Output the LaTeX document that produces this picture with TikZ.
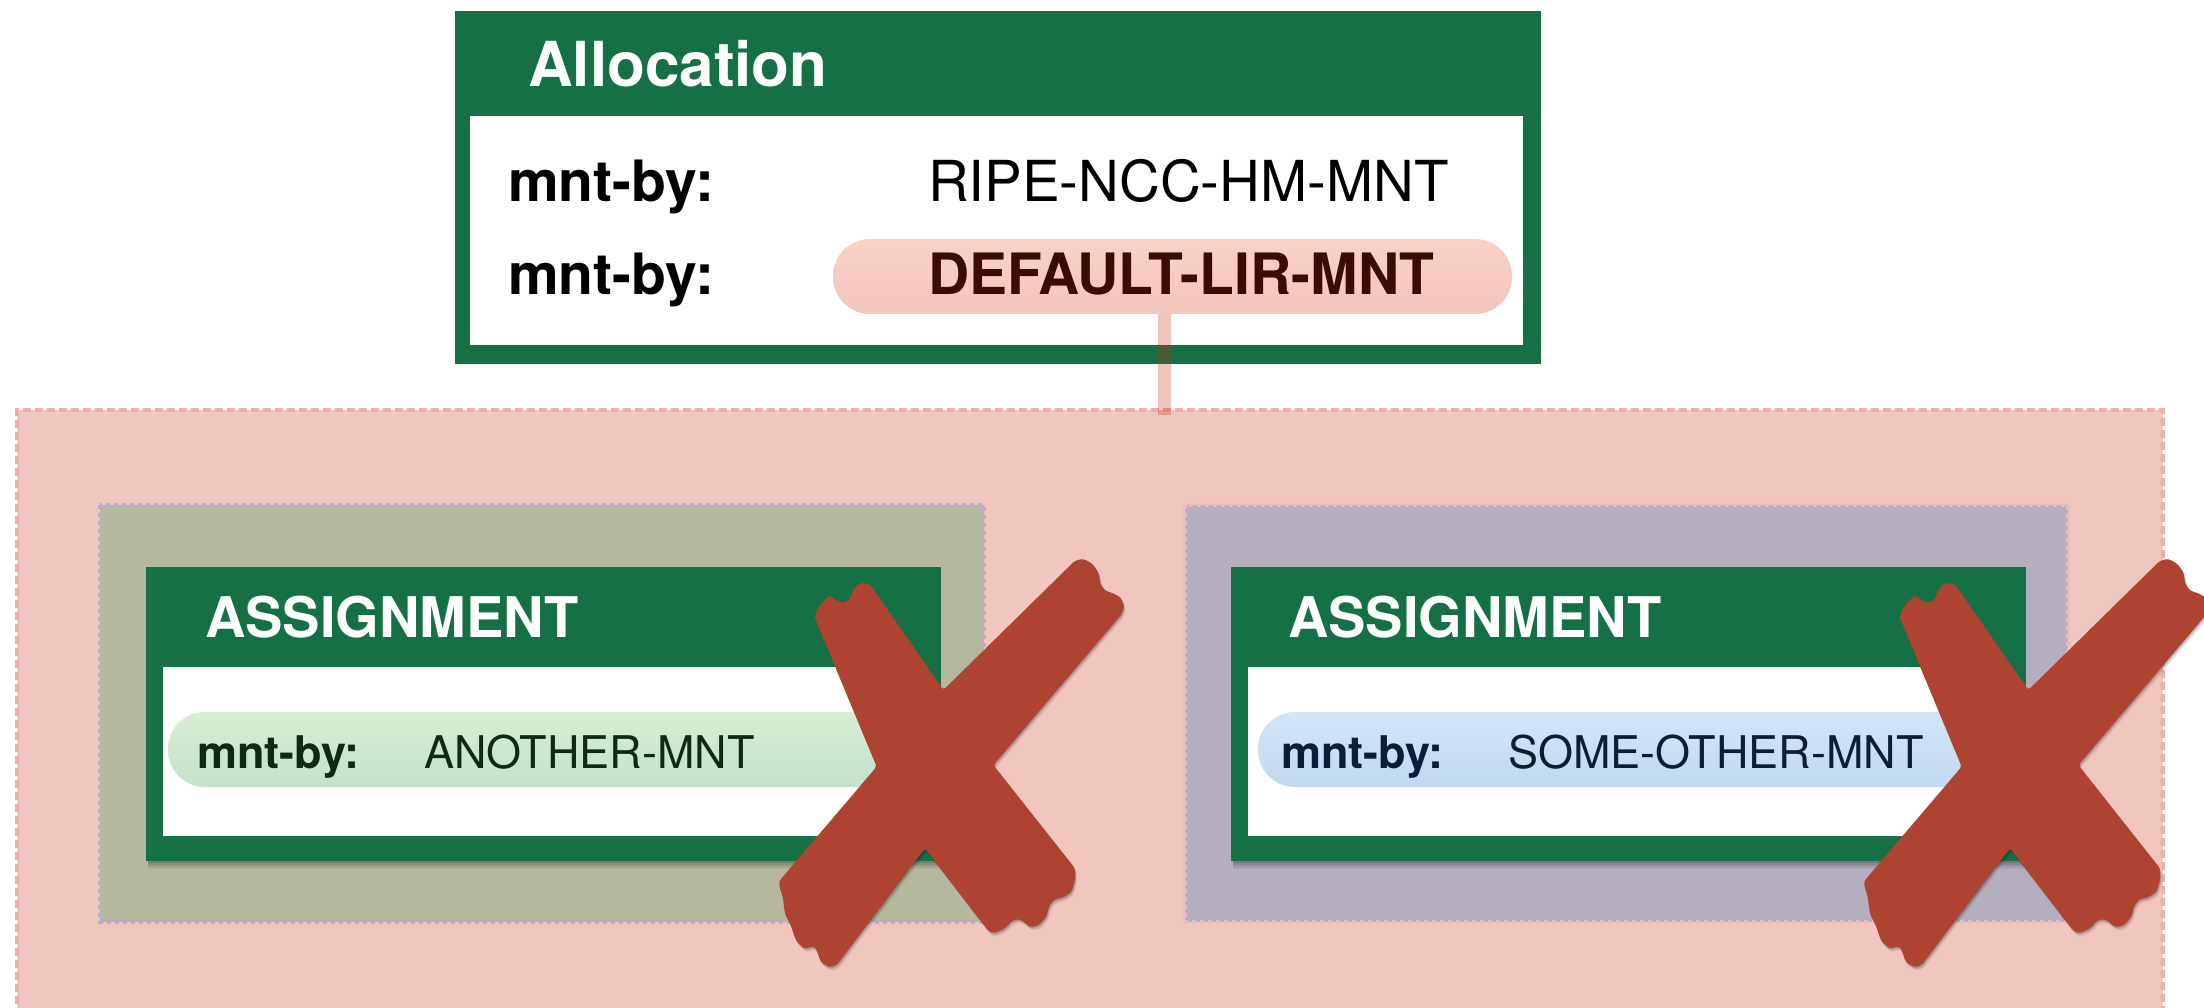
\documentclass[tikz,border=0pt]{standalone}
\usepackage{fontspec}
\setmainfont{TeX Gyre Heros}
\definecolor{ripegreen}{RGB}{22,112,70}
\definecolor{regionpink}{RGB}{241,198,191}
\definecolor{regionedge}{RGB}{232,176,168}
\definecolor{olivebg}{RGB}{181,184,157}
\definecolor{purplebg}{RGB}{181,174,191}
\definecolor{lavedge}{RGB}{182,172,204}
\definecolor{pinkedge}{RGB}{230,188,196}
\definecolor{pillredtop}{RGB}{251,209,197}
\definecolor{pillredbot}{RGB}{242,197,189}
\definecolor{pillgreentop}{RGB}{216,237,211}
\definecolor{pillgreenbot}{RGB}{195,226,204}
\definecolor{pillbluetop}{RGB}{211,230,249}
\definecolor{pillbluebot}{RGB}{192,216,239}
\definecolor{xred}{RGB}{175,67,50}
\definecolor{connred}{RGB}{204,37,7}
\definecolor{brownink}{RGB}{58,13,4}
\definecolor{greenink}{RGB}{15,42,16}
\definecolor{navyink}{RGB}{13,29,56}
\newcommand\myXoutline{(133,200) -- (150,165) -- (180,135) -- (200,152) -- (220,160) -- (240,148) -- (250,118) -- (265,102) -- (288,98) -- (305,110) -- (520,420) -- (915,32) -- (940,26) -- (968,42) -- (986,68) -- (990,100) -- (1005,122) -- (1030,130) -- (1052,142) -- (1063,168) -- (1055,192) -- (670,645) -- (915,955) -- (915,990) -- (905,1025) -- (880,1042) -- (852,1048) -- (836,1070) -- (830,1098) -- (808,1125) -- (782,1132) -- (752,1108) -- (728,1110) -- (705,1135) -- (672,1150) -- (655,1142) -- (465,895) -- (200,1245) -- (180,1252) -- (152,1236) -- (140,1200) -- (132,1188) -- (103,1196) -- (78,1172) -- (62,1125) -- (45,1092) -- (38,1040) -- (26,1000) -- (32,988) -- (320,650) -- cycle}
\begin{document}
\begin{tikzpicture}[x=1pt,y=-1pt,
  lbl/.style={anchor=base west,inner sep=0pt,outer sep=0pt},
  titlebold/.style={lbl,text=white,font=\fontsize{62}{68}\selectfont\bfseries},
  bigbold/.style={lbl,font=\fontsize{57}{62}\selectfont\bfseries},
  bigreg/.style={lbl,font=\fontsize{56.5}{62}\selectfont},
  headbold/.style={lbl,text=white,font=\fontsize{56}{62}\selectfont\bfseries},
  smallbold/.style={lbl,font=\fontsize{45}{50}\selectfont\bfseries},
  smallreg/.style={lbl,font=\fontsize{45}{50}\selectfont},
  pill/.style={rectangle,rounded corners=37pt,inner sep=0pt,outer sep=0pt,minimum height=75pt,anchor=north west},
  zone/.style={line width=3.5pt,dash pattern=on 4pt off 4pt},
  conn/.style={draw=connred,draw opacity=0.27,line width=13pt}]
\useasboundingbox (0,0) rectangle (2204,1008);
\fill[white] (0,0) rectangle (2204,1008);

% outer pink region
\node[rectangle,fill=regionpink,draw=regionedge,line width=3.5pt,dash pattern=on 8pt off 4pt,
      minimum width=2146pt,minimum height=606pt,inner sep=0pt,outer sep=0pt,anchor=north west] (region) at (17,410) {};

% coloured zones
\filldraw[fill=olivebg,draw=lavedge,zone] (100,505) rectangle (984,922);
\filldraw[fill=purplebg,draw=pinkedge,zone] (1185,505) rectangle (2068,922);

% assignment boxes
\foreach \bx in {146,1231}{
  \foreach \s/\o in {8/0.06,6/0.08,4/0.10,2/0.12}{
    \fill[black,opacity=\o] (\bx+2,570+\s) rectangle (\bx+793,861+\s);}
  \fill[ripegreen] (\bx,567) rectangle (\bx+795,861);
  \fill[white] (\bx+17,667) rectangle (\bx+778,836);
}
\node[pill,top color=pillgreentop,bottom color=pillgreenbot,minimum width=751pt] (pillB) at (168,712) {};
\node[pill,top color=pillbluetop,bottom color=pillbluebot,minimum width=745pt] (pillC) at (1258,712) {};

\node[headbold] (asgA) at (205,637) {ASSIGNMENT};
\node[headbold] (asgB) at (1288,637) {ASSIGNMENT};
\node[smallbold,text=greenink] (mbB) at (197,768) {mnt-by:};
\node[smallreg,text=greenink] (valB) at (424,768) {ANOTHER-MNT};
\node[smallbold,text=navyink] (mbC) at (1281,768) {mnt-by:};
\node[smallreg,text=navyink] (valC) at (1508,768) {SOME-OTHER-MNT};

% allocation box
\fill[ripegreen] (455,11) rectangle (1541,364);
\fill[white] (470,116) rectangle (1523,345);
\node[pill,top color=pillredtop,bottom color=pillredbot,minimum width=679pt] (pillA) at (833,239) {};
\node[titlebold] (alloc) at (528,87) {Allocation};
\node[bigbold,text=black] (mb1) at (508,202) {mnt-by:};
\node[bigreg,text=black] (val1) at (928,202) {RIPE-NCC-HM-MNT};
\node[bigbold,text=black] (mb2) at (508,295) {mnt-by:};
\node[bigbold,text=brownink] (val2) at (928,295) {DEFAULT-LIR-MNT};

% connector
\coordinate (cTop) at ([xshift=-8pt]pillA.south);
\coordinate (cBot) at (cTop |- region.north);
\draw[conn] (cTop) -- ([yshift=-5pt]cBot);

% X marks
\foreach \ox in {770,1855}{
  \begin{scope}[shift={(\ox,550)},scale=1/3]
    \foreach \s/\o in {12/0.05,9/0.07,6/0.09,3/0.12}{
      \fill[black,opacity=\o,rounded corners=3pt,shift={(\s*0.5,\s)}] \myXoutline;}
    \fill[xred,rounded corners=3pt] \myXoutline;
  \end{scope}
}
\end{tikzpicture}
\end{document}
